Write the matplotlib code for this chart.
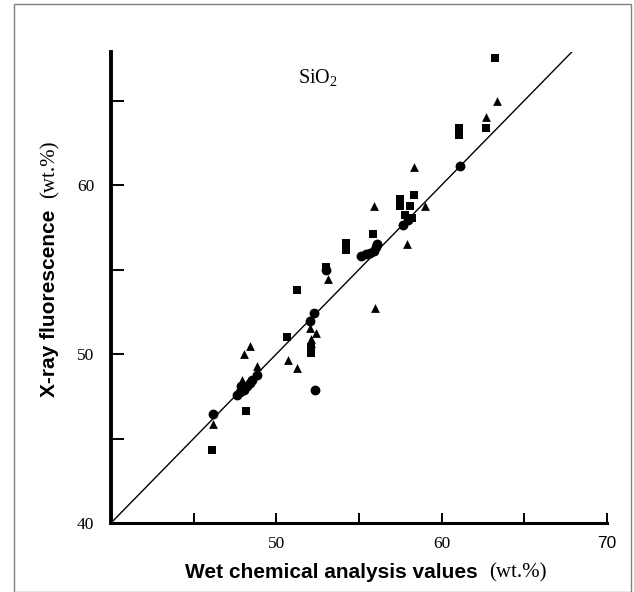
import matplotlib
matplotlib.use("Agg")
import matplotlib.pyplot as plt
from matplotlib.patches import Rectangle

plt.rcParams["mathtext.fontset"] = "custom"
plt.rcParams["mathtext.rm"] = "Liberation Serif"
plt.rcParams["mathtext.it"] = "Liberation Serif:italic"

# ---- data (wet chemical value, XRF value) ----
sq_x = [63.20, 62.70, 61.03, 61.03, 58.33, 57.50, 57.50, 58.11, 57.76, 58.19,
        55.87, 54.24, 54.24, 53.03, 51.26, 50.65, 52.07, 52.07, 48.16, 46.08]
sq_y = [67.50, 63.36, 63.37, 62.96, 59.41, 59.17, 58.76, 58.76, 58.22, 58.05,
        57.08, 56.57, 56.15, 55.15, 53.79, 51.02, 50.41, 50.06, 46.64, 44.32]

ci_x = [61.09, 57.64, 57.95, 55.15, 55.41, 55.65, 55.89, 56.01, 56.07, 53.03,
        52.28, 52.02, 52.33, 48.86, 47.60, 47.79, 48.04, 48.22, 48.40, 48.52,
        47.85, 46.14]
ci_y = [61.14, 57.63, 57.93, 55.80, 55.92, 55.98, 56.09, 56.33, 56.51, 54.97,
        52.41, 51.97, 47.87, 48.76, 47.57, 47.75, 47.87, 48.11, 48.28, 48.46,
        48.11, 46.43]

tr_x = [63.34, 62.70, 58.33, 55.91, 58.97, 57.93, 53.13, 55.95, 52.02, 52.39,
        52.08, 52.08, 50.68, 51.26, 48.40, 48.05, 48.86, 47.93, 46.18]
tr_y = [64.97, 64.04, 61.05, 58.78, 58.78, 56.49, 54.42, 52.74, 51.54, 51.24,
        50.90, 50.65, 49.64, 49.19, 50.47, 50.00, 49.29, 48.46, 45.84]

line_x = [40, 67.9]
line_y = [40, 67.9]

x_ticks = [45, 50, 55, 60, 65, 70]
x_ticklabels = ["", "50", "", "60", "", "70"]
y_ticks = [40, 45, 50, 55, 60, 65]
y_ticklabels = ["40", "", "50", "", "60", ""]

title_text = r"SiO$_\mathrm{2}$"
x_label_main = "Wet chemical analysis values"
y_label_main = "X-ray fluorescence"
unit_label = "(wt.%)"

# ---- figure ----
W, H = 634, 592
fig = plt.figure(figsize=(W / 100, H / 100), dpi=100)
fig.patch.set_facecolor("white")


def fx(px):
    return px / W


def fy(py):
    return 1 - py / H


# outer gray frame
fig.patches.append(Rectangle((fx(14), 0), (631 - 14) / W, fy(4), transform=fig.transFigure,
                             fill=False, edgecolor="#808080", linewidth=1.0))

ax = fig.add_axes([fx(111), fy(523), (607 - 111) / W, (523 - 52) / H])
ax.set_xlim(40, 70)
ax.set_ylim(40, 67.87)
ax.set_facecolor("none")

for s in ["top", "right"]:
    ax.spines[s].set_visible(False)
ax.spines["left"].set_linewidth(2.8)
ax.spines["bottom"].set_linewidth(2.2)

ax.plot(line_x, line_y, color="black", linewidth=1.0, zorder=2)

ax.scatter(sq_x, sq_y, marker="s", s=40, color="black", linewidths=0, zorder=3)
ax.scatter(ci_x, ci_y, marker="o", s=50, color="black", linewidths=0, zorder=3)
ax.scatter(tr_x, tr_y, marker="^", s=40, color="black", linewidths=0, zorder=3)

serif = ["Liberation Serif", "DejaVu Serif"]
ax.set_xticks(x_ticks)
ax.set_xticklabels(x_ticklabels, fontfamily=serif, fontsize=12.5)
ax.get_xticklabels()[-1].set_fontfamily("Liberation Sans")
ax.set_yticks(y_ticks)
ax.set_yticklabels(y_ticklabels, fontfamily=serif, fontsize=12.5)
ax.tick_params(axis="x", direction="in", length=7, width=1.4, pad=9)
ax.tick_params(axis="y", direction="in", length=9, width=1.4, pad=12)

# axis labels: bold sans main part + serif unit
renderer = fig.canvas.get_renderer()
gap = 12  # px

xl1 = fig.text(0, fy(573), x_label_main, fontfamily="Liberation Sans", fontweight="bold",
               fontsize=15, ha="left", va="center")
xl2 = fig.text(0, fy(573), unit_label, fontfamily=serif, fontsize=15,
               ha="left", va="center")
w1 = xl1.get_window_extent(renderer).width
w2 = xl2.get_window_extent(renderer).width
start = 366 - (w1 + gap + w2) / 2
xl1.set_x(fx(start))
xl2.set_x(fx(start + w1 + gap))

yl1 = fig.text(fx(50), 0, y_label_main, fontfamily="Liberation Sans", fontweight="bold",
               fontsize=15, rotation=90, ha="center", va="bottom")
yl2 = fig.text(fx(50), 0, unit_label, fontfamily=serif, fontsize=15,
               rotation=90, ha="center", va="bottom")
h1 = yl1.get_window_extent(renderer).height
h2 = yl2.get_window_extent(renderer).height
total = h1 + gap + h2
bottom_px = 269 + total / 2  # from top
yl1.set_y(fy(bottom_px))
yl2.set_y(fy(bottom_px - h1 - gap))

fig.text(fx(318), fy(77), title_text, fontfamily=serif, fontsize=14.5,
         ha="center", va="center")

fig.savefig("out.png", dpi=100)
